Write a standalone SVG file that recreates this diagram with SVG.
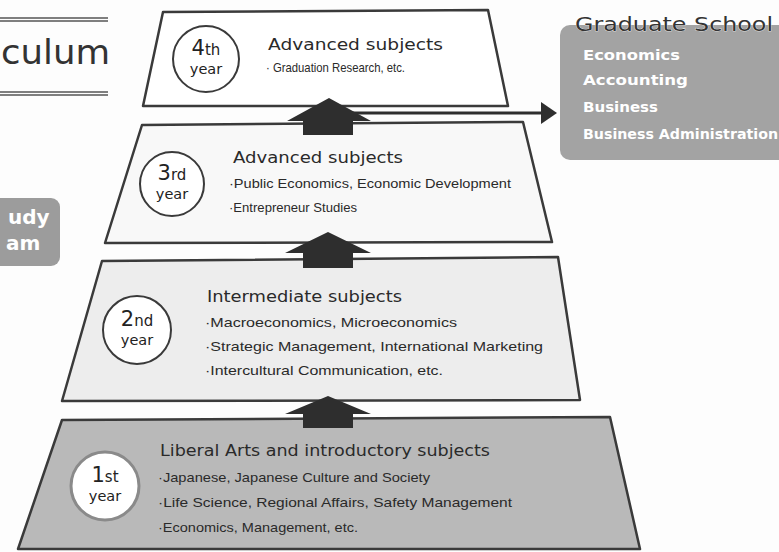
<svg xmlns="http://www.w3.org/2000/svg" width="779" height="552" viewBox="0 0 779 552">
<style>
.trap{stroke:#3a3a3a;stroke-width:2.5;stroke-linejoin:round}
.circ{fill:#fff;stroke:#3a3a3a;stroke-width:2}
.head{font-family:"DejaVu Sans",sans-serif;font-size:16px;fill:#2a2a2a}
.item{font-family:"Liberation Sans",Arial,sans-serif;font-size:13px;fill:#2a2a2a}
.yr{font-family:"DejaVu Sans",sans-serif;fill:#222;text-anchor:middle}
.big{font-size:21px}
.sm{font-size:15px}
.ye{font-size:14.5px}
.gs{font-family:"DejaVu Sans",sans-serif;font-weight:bold;font-size:14px;fill:#fff}
.arr{fill:#2e2e2e}
</style>
<rect width="779" height="552" fill="#fdfdfd"/>
<g id="title">
<line x1="0" y1="18" x2="108" y2="18" stroke="#555" stroke-width="1.5"/>
<line x1="0" y1="21" x2="108" y2="21" stroke="#555" stroke-width="1.5"/>
<text x="1" y="64" font-family="DejaVu Sans,sans-serif" font-size="34" fill="#333" textLength="109" lengthAdjust="spacingAndGlyphs">culum</text>
<line x1="0" y1="92" x2="108" y2="92" stroke="#555" stroke-width="1.5"/>
<line x1="0" y1="95" x2="108" y2="95" stroke="#555" stroke-width="1.5"/>
</g>
<g id="study">
<rect x="-12" y="198" width="72" height="68" rx="9" fill="#9c9c9c"/>
<text font-family="DejaVu Sans,sans-serif" font-weight="bold" font-size="20" fill="#fff"><tspan x="8" y="224">udy</tspan><tspan x="6" y="250">am</tspan></text>
</g>
<g id="year1">
<polygon class="trap" points="62,420 610,417 640,549 18,549" fill="#b9b9b9"/>
<circle cx="105" cy="486" r="34" fill="#fff" stroke="#8a8a8a" stroke-width="3"/>
<text class="yr"><tspan x="105" y="482" class="big">1</tspan><tspan class="sm">st</tspan><tspan x="105" y="501" class="ye">year</tspan></text>
<text class="head" x="160" y="456" textLength="330" lengthAdjust="spacingAndGlyphs">Liberal Arts and introductory subjects</text>
<text class="item" x="158" y="482" textLength="272" lengthAdjust="spacingAndGlyphs">·Japanese, Japanese Culture and Society</text>
<text class="item" x="158" y="507" textLength="354" lengthAdjust="spacingAndGlyphs">·Life Science, Regional Affairs, Safety Management</text>
<text class="item" x="158" y="532" textLength="200" lengthAdjust="spacingAndGlyphs">·Economics, Management, etc.</text>
</g>
<g id="year2">
<polygon class="trap" points="102,261 558,257 580,400 62,401" fill="#ededed"/>
<circle class="circ" cx="137" cy="330" r="34"/>
<text class="yr"><tspan x="137" y="326" class="big">2</tspan><tspan class="sm">nd</tspan><tspan x="137" y="345" class="ye">year</tspan></text>
<text class="head" x="207" y="302" textLength="195" lengthAdjust="spacingAndGlyphs">Intermediate subjects</text>
<text class="item" x="205" y="327" textLength="252" lengthAdjust="spacingAndGlyphs">·Macroeconomics, Microeconomics</text>
<text class="item" x="205" y="351" textLength="338" lengthAdjust="spacingAndGlyphs">·Strategic Management, International Marketing</text>
<text class="item" x="205" y="375" textLength="238" lengthAdjust="spacingAndGlyphs">·Intercultural Communication, etc.</text>
</g>
<g id="year3">
<polygon class="trap" points="142,125 523,122 552,242 105,243" fill="#f8f8f8"/>
<circle class="circ" cx="172" cy="184" r="32"/>
<text class="yr"><tspan x="172" y="180" class="big">3</tspan><tspan class="sm">rd</tspan><tspan x="172" y="199" class="ye">year</tspan></text>
<text class="head" x="233" y="163" textLength="170" lengthAdjust="spacingAndGlyphs">Advanced subjects</text>
<text class="item" x="229" y="188" textLength="282" lengthAdjust="spacingAndGlyphs">·Public Economics, Economic Development</text>
<text class="item" x="229" y="212" textLength="128" lengthAdjust="spacingAndGlyphs">·Entrepreneur Studies</text>
</g>
<g id="year4">
<polygon class="trap" points="163,12 488,10 508,106 143,106" fill="#fff"/>
<circle class="circ" cx="206" cy="59" r="33"/>
<text class="yr"><tspan x="206" y="55" class="big">4</tspan><tspan class="sm">th</tspan><tspan x="206" y="74" class="ye">year</tspan></text>
<text class="head" x="268" y="50" textLength="175" lengthAdjust="spacingAndGlyphs">Advanced subjects</text>
<text class="item" x="266" y="72" textLength="139" lengthAdjust="spacingAndGlyphs">· Graduation Research, etc.</text>
</g>
<g id="graduate">
<rect x="560" y="25" width="235" height="135" rx="10" fill="#a3a3a3"/>
<text x="575" y="31" font-family="DejaVu Sans,sans-serif" font-size="20" fill="#333" stroke="#fff" stroke-width="0.6" paint-order="stroke" textLength="198" lengthAdjust="spacingAndGlyphs">Graduate School</text>
<text class="gs" x="583" y="60" textLength="97" lengthAdjust="spacingAndGlyphs">Economics</text>
<text class="gs" x="583" y="85" textLength="105" lengthAdjust="spacingAndGlyphs">Accounting</text>
<text class="gs" x="583" y="112" textLength="75" lengthAdjust="spacingAndGlyphs">Business</text>
<text class="gs" x="583" y="139" textLength="195" lengthAdjust="spacingAndGlyphs">Business Administration</text>
</g>
<g id="connectors">
<polygon class="arr" points="329,98 371,121 353,121 353,135 303,135 303,121 287,121"/>
<polygon class="arr" points="328,232 371,253 353,253 353,268 303,268 303,253 285,253"/>
<polygon class="arr" points="328,396 371,414 353,414 353,428 303,428 303,414 285,414"/>
<line x1="353" y1="113" x2="544" y2="113" stroke="#2e2e2e" stroke-width="3"/>
<polygon class="arr" points="541,102 557,113 541,124"/>
</g>
</svg>
